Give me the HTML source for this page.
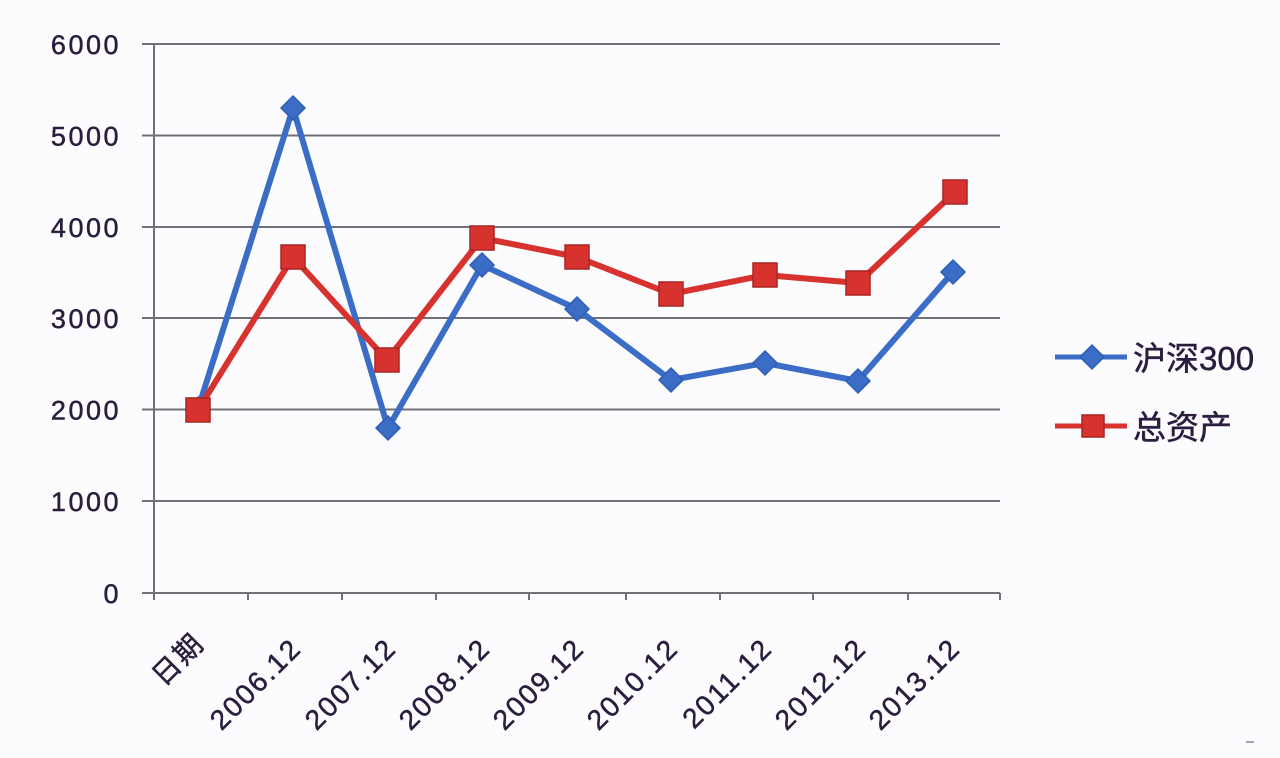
<!DOCTYPE html>
<html><head><meta charset="utf-8"><style>
html,body{margin:0;padding:0;background:#fcfcfe;}
svg{display:block;}
text{font-family:"Liberation Sans","Noto Sans CJK SC",sans-serif;fill:#2b1d3d;stroke:#2b1d3d;stroke-width:0.5;}
</style></head><body>
<svg width="1280" height="758" viewBox="0 0 1280 758" xmlns="http://www.w3.org/2000/svg">
<rect width="1280" height="758" fill="#fcfcfe"/>
<g stroke="#707078" stroke-width="2">
<line x1="142" y1="44" x2="1000" y2="44"/>
<line x1="142" y1="135.5" x2="1000" y2="135.5"/>
<line x1="142" y1="227" x2="1000" y2="227"/>
<line x1="142" y1="318" x2="1000" y2="318"/>
<line x1="142" y1="409.5" x2="1000" y2="409.5"/>
<line x1="142" y1="501" x2="1000" y2="501"/>
<line x1="142" y1="593" x2="1000" y2="593"/>
<line x1="154" y1="44" x2="154" y2="600"/>
<line x1="248" y1="593" x2="248" y2="600"/>
<line x1="342" y1="593" x2="342" y2="600"/>
<line x1="436" y1="593" x2="436" y2="600"/>
<line x1="529" y1="593" x2="529" y2="600"/>
<line x1="626" y1="593" x2="626" y2="600"/>
<line x1="720" y1="593" x2="720" y2="600"/>
<line x1="813" y1="593" x2="813" y2="600"/>
<line x1="908" y1="593" x2="908" y2="600"/>
<line x1="1000" y1="593" x2="1000" y2="600"/>
</g>
<g font-size="27" text-anchor="end" letter-spacing="2.5">
<text x="121" y="54">6000</text>
<text x="121" y="145.5">5000</text>
<text x="121" y="237">4000</text>
<text x="121" y="328">3000</text>
<text x="121" y="419.5">2000</text>
<text x="121" y="511">1000</text>
<text x="121" y="603">0</text>
</g>
<g font-size="28" text-anchor="end" letter-spacing="2">
<text transform="translate(206,645) rotate(-45)">日期</text>
<text transform="translate(303,650) rotate(-45)">2006.12</text>
<text transform="translate(398,650) rotate(-45)">2007.12</text>
<text transform="translate(492,650) rotate(-45)">2008.12</text>
<text transform="translate(586,650) rotate(-45)">2009.12</text>
<text transform="translate(680,650) rotate(-45)">2010.12</text>
<text transform="translate(774,650) rotate(-45)">2011.12</text>
<text transform="translate(868,650) rotate(-45)">2012.12</text>
<text transform="translate(962,650) rotate(-45)">2013.12</text>
</g>
<!-- Blue series -->
<polyline fill="none" stroke="#3b6cc6" stroke-width="6" stroke-linejoin="round" points="198,409 293,108 388,428 482,265 577,309 671,380 765,363 858,381 953,272"/>
<g fill="#3b6cc6" stroke="#2f5fb5" stroke-width="1.5">
<polygon points="198,397 210,409 198,421 186,409"/>
<polygon points="293,96 305,108 293,120 281,108"/>
<polygon points="388,416 400,428 388,440 376,428"/>
<polygon points="482,253 494,265 482,277 470,265"/>
<polygon points="577,297 589,309 577,321 565,309"/>
<polygon points="671,368 683,380 671,392 659,380"/>
<polygon points="765,351 777,363 765,375 753,363"/>
<polygon points="858,369 870,381 858,393 846,381"/>
<polygon points="953,260 965,272 953,284 941,272"/>
</g>
<!-- Red series -->
<polyline fill="none" stroke="#d8322f" stroke-width="6" stroke-linejoin="round" points="198,410 293,257 387,360 482,238 577,257 671,294 765,275 858,283 955,192"/>
<g fill="#d8322f" stroke="#a82522" stroke-width="1.5">
<rect x="186" y="398" width="24" height="24"/>
<rect x="281" y="245" width="24" height="24"/>
<rect x="375" y="348" width="24" height="24"/>
<rect x="470" y="226" width="24" height="24"/>
<rect x="565" y="245" width="24" height="24"/>
<rect x="659" y="282" width="24" height="24"/>
<rect x="753" y="263" width="24" height="24"/>
<rect x="846" y="271" width="24" height="24"/>
<rect x="943" y="180" width="24" height="24"/>
</g>
<!-- Legend -->
<line x1="1055" y1="357" x2="1127" y2="357" stroke="#3b6cc6" stroke-width="5"/>
<polygon points="1092,345 1104,357 1092,369 1080,357" fill="#3b6cc6" stroke="#2f5fb5" stroke-width="1.5"/>
<text x="1133" y="370" font-size="33">沪深300</text>
<line x1="1055" y1="426" x2="1127" y2="426" stroke="#d8322f" stroke-width="5"/>
<rect x="1082" y="415" width="22" height="22" fill="#d8322f" stroke="#a82522" stroke-width="1.5"/>
<text x="1133" y="439" font-size="33">总资产</text>
<line x1="1246" y1="742" x2="1254" y2="742" stroke="#7a8aa0" stroke-width="1.5"/>
</svg>
</body></html>
